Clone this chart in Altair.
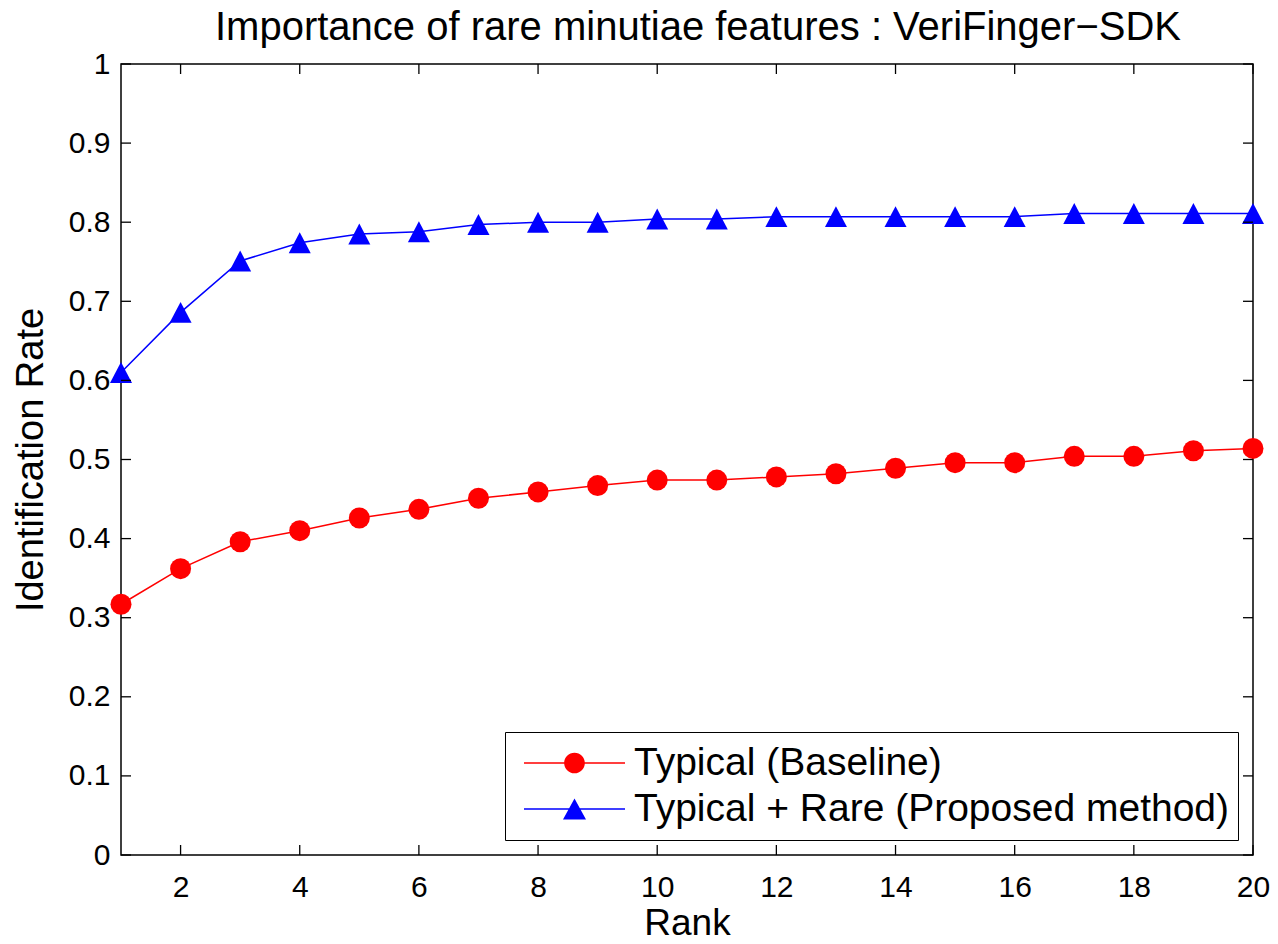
import altair as alt
import pandas as pd

# ---- data ----
ranks = list(range(1, 21))
typical = [0.317, 0.362, 0.396, 0.410, 0.426, 0.437, 0.451, 0.459, 0.467, 0.474,
           0.474, 0.478, 0.482, 0.489, 0.496, 0.496, 0.504, 0.504, 0.511, 0.514]
proposed = [0.610, 0.686, 0.751, 0.774, 0.785, 0.788, 0.797, 0.800, 0.800, 0.804,
            0.804, 0.807, 0.807, 0.807, 0.807, 0.807, 0.811, 0.811, 0.811, 0.811]
series_names = ["Typical (Baseline)", "Typical + Rare (Proposed method)"]
series_colors = ["#ff0000", "#0000ff"]
x_ticks = [2, 4, 6, 8, 10, 12, 14, 16, 18, 20]
y_ticks = [0, 0.1, 0.2, 0.3, 0.4, 0.5, 0.6, 0.7, 0.8, 0.9, 1.0]

W, H = 1132, 791
FONT = "Liberation Sans"

df = pd.DataFrame({
    "rank": ranks * 2,
    "rate": typical + proposed,
    "series": [series_names[0]] * 20 + [series_names[1]] * 20,
})
dfx = pd.DataFrame({"t": x_ticks})
dfy = pd.DataFrame({"t": y_ticks})

xscale = alt.Scale(domain=[1, 20], nice=False, zero=False)
yscale = alt.Scale(domain=[0, 1], nice=False, zero=False)
cscale = alt.Scale(domain=series_names, range=series_colors)

# legend symbols: line + marker in one custom path (unit = half the symbol width)
leg_circle = ("M-1,-0.016H1V0.016H-1Z "
              "M-0.205,0A0.205,0.205 0 1,1 0.205,0A0.205,0.205 0 1,1 -0.205,0Z")
leg_tri = ("M-1,-0.016H1V0.016H-1Z "
           "M0,-0.208L0.228,0.208L-0.228,0.208Z")
tri_path = "M0,-0.95L1,0.95L-1,0.95Z"

xaxis = alt.Axis(values=x_ticks, title="Rank", ticks=False, domain=False, grid=False,
                 labelFontSize=30, labelFont=FONT, labelColor="black", labelPadding=17,
                 labelFlush=False, titleFontSize=37, titleFont=FONT, titleFontWeight="normal",
                 titleColor="black", titlePadding=3)
yaxis = alt.Axis(values=y_ticks, title="Identification Rate", ticks=False, domain=False,
                 grid=False, format=".1~f",
                 labelFontSize=30, labelFont=FONT, labelColor="black", labelPadding=11,
                 labelFlush=False, titleFontSize=38, titleFont=FONT, titleFontWeight="normal",
                 titleColor="black", titlePadding=18)

X = alt.X("rank:Q", scale=xscale, axis=xaxis)
Y = alt.Y("rate:Q", scale=yscale, axis=yaxis)

base = alt.Chart(df)
typ = base.transform_filter(alt.datum.series == series_names[0])
prop = base.transform_filter(alt.datum.series == series_names[1])

line_typ = typ.mark_line(strokeWidth=1.5, color=series_colors[0]).encode(x=X, y=Y)
line_prop = prop.mark_line(strokeWidth=1.5, color=series_colors[1]).encode(x=X, y=Y)

pts_typ = typ.mark_point(
    shape="circle", filled=True, size=441, opacity=1, strokeWidth=0, color=series_colors[0]
).encode(x=X, y=Y)
pts_prop = prop.mark_point(
    shape=tri_path, filled=True, size=484, opacity=1, strokeWidth=0, color=series_colors[1]
).encode(x=X, y=Y)

legend_props = dict(
    title=None, orient="bottom-right", offset=15, padding=8,
    strokeColor="black", fillColor="white",
    labelFontSize=39, labelFont=FONT, labelColor="black", labelLimit=2000,
    symbolSize=10201, symbolOffset=11, labelOffset=9, clipHeight=46, rowPadding=0,
    symbolStrokeWidth=0, symbolOpacity=1,
)

legend_layer = base.transform_filter("false").mark_point(
    filled=True, opacity=1, strokeWidth=0
).encode(
    x=X, y=Y,
    color=alt.Color("series:N", scale=cscale, legend=alt.Legend(**legend_props)),
    shape=alt.Shape("series:N", scale=alt.Scale(domain=series_names, range=[leg_circle, leg_tri]),
                    legend=alt.Legend(**legend_props)),
)

# inward tick marks on all four sides of the box
XT = alt.X("t:Q", scale=xscale, axis=xaxis)
YT = alt.Y("t:Q", scale=yscale, axis=yaxis)
tick_b = alt.Chart(dfx).mark_rule(color="black", strokeWidth=1.3).encode(
    x=XT, y=alt.value(H), y2=alt.value(H - 10))
tick_t = alt.Chart(dfx).mark_rule(color="black", strokeWidth=1.3).encode(
    x=XT, y=alt.value(0), y2=alt.value(10))
tick_l = alt.Chart(dfy).mark_rule(color="black", strokeWidth=1.3).encode(
    y=YT, x=alt.value(0), x2=alt.value(10))
tick_r = alt.Chart(dfy).mark_rule(color="black", strokeWidth=1.3).encode(
    y=YT, x=alt.value(W), x2=alt.value(W - 10))

chart = alt.layer(
    line_typ, line_prop, pts_typ, pts_prop, legend_layer, tick_b, tick_t, tick_l, tick_r
).properties(
    width=W, height=H,
    title=alt.TitleParams(
        text="Importance of rare minutiae features : VeriFinger\u2212SDK",
        fontSize=40, font=FONT, fontWeight="normal", color="black",
        anchor="middle", offset=1, dx=11,
    ),
    autosize=alt.AutoSizeParams(type="none"),
    padding={"left": 113, "top": 56, "right": 17, "bottom": 80},
).configure(
    background="white",
    view=alt.ViewConfig(stroke="black", strokeWidth=1.5),
)

chart.save("out.html", embed_options={"renderer": "svg", "actions": False})
